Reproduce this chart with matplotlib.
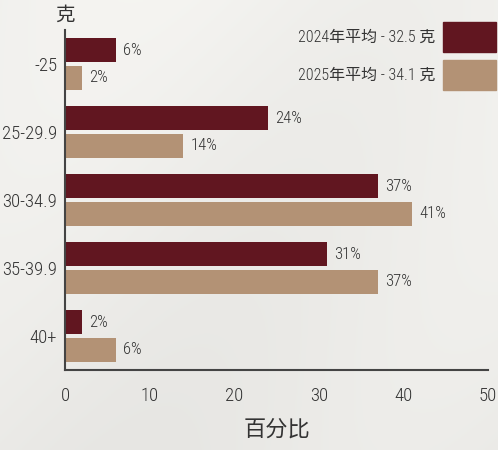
import numpy as np
import matplotlib
matplotlib.use("Agg")
import matplotlib.pyplot as plt
from matplotlib.patches import Rectangle

categories = ["-25", "25-29.9", "30-34.9", "35-39.9", "40+"]
share_2024 = [6, 24, 37, 31, 2]
share_2025 = [2, 14, 41, 37, 6]
legend_2024 = "2024年平均 - 32.5 克"
legend_2025 = "2025年平均 - 34.1 克"
x_ticks = [0, 10, 20, 30, 40, 50]

DARK = "#611620"
LIGHT = "#b39275"
TEXT = "#333333"
NUM_FONT = ["Roboto Condensed", "DejaVu Sans"]
CJK_FONT = ["Noto Sans CJK SC", "DejaVu Sans"]
MIX_FONT = ["Roboto Condensed", "Noto Sans CJK SC", "DejaVu Sans"]

W, H = 498, 450
fig = plt.figure(figsize=(W / 100, H / 100), dpi=100)

# soft pale backdrop
bg = fig.add_axes([0, 0, 1, 1], zorder=-10)
yy, xx = np.mgrid[0:1:200j, 0:1:220j]
shade = 0.945 - 0.03 * yy + 0.012 * np.sin(6 * xx + 3 * yy)
rgb = np.dstack([shade + 0.003, shade + 0.0, shade - 0.012])
bg.imshow(np.clip(rgb, 0, 1), extent=[0, 1, 0, 1], aspect="auto")
bg.axis("off")

ax = fig.add_axes([65 / W, 1 - 370 / H, (488 - 65) / W, (370 - 30) / H])
ax.patch.set_alpha(0)

y = np.arange(len(categories))
h = 0.355
off = 0.2
ax.barh(y - off, share_2024, height=h, color=DARK)
ax.barh(y + off, share_2025, height=h, color=LIGHT)

for yi, v in zip(y, share_2024):
    ax.text(v + 0.85, yi - off, f"{v}%", va="center", ha="left", fontsize=12,
            color=TEXT, family=NUM_FONT, weight="light")
for yi, v in zip(y, share_2025):
    ax.text(v + 0.85, yi + off, f"{v}%", va="center", ha="left", fontsize=12,
            color=TEXT, family=NUM_FONT, weight="light")

ax.set_xlim(0, 50)
ax.set_ylim(4.5, -0.5)
ax.set_xticks(x_ticks)
ax.set_xticklabels([str(t) for t in x_ticks], family=NUM_FONT, fontsize=13.5,
                   color=TEXT, weight="light")
ax.set_yticks(y)
ax.set_yticklabels(categories, family=NUM_FONT, fontsize=13.5, color=TEXT,
                   weight="light")
ax.tick_params(axis="y", length=0, pad=5.5)
ax.tick_params(axis="x", length=0, pad=12)
for s in ["top", "right"]:
    ax.spines[s].set_visible(False)
for s in ["left", "bottom"]:
    ax.spines[s].set_color("#444444")
    ax.spines[s].set_linewidth(1.5)

ax.set_xlabel("百分比", family=CJK_FONT, fontsize=16, color=TEXT, labelpad=9)
fig.text(65 / W, 1 - 15 / H, "克", family=CJK_FONT, fontsize=14, color=TEXT,
         ha="center", va="center")

# legend swatches on the top right
for (txt, col, top) in [(legend_2024, DARK, 22), (legend_2025, LIGHT, 60)]:
    fig.patches.append(Rectangle((443 / W, 1 - (top + 30) / H), 53 / W, 30 / H,
                                 transform=fig.transFigure, color=col))
    fig.text(435 / W, 1 - (top + 15) / H, txt, family=MIX_FONT, fontsize=11.5,
             color=TEXT, ha="right", va="center", weight="light")

fig.savefig("out.png", dpi=100)
